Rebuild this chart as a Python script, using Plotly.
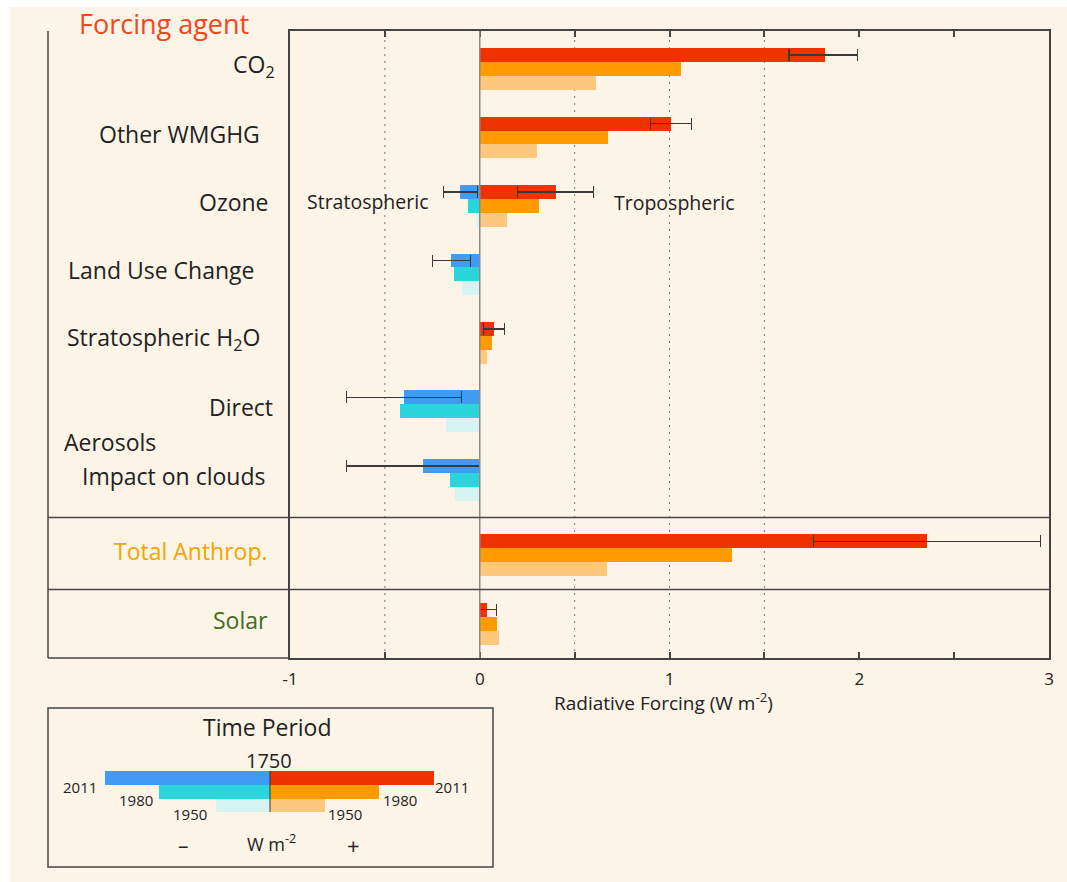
import plotly.graph_objects as go

# ---------------- data (W m-2) ----------------
agents = ["CO<sub>2</sub>", "Other WMGHG", "Ozone", "Land Use Change",
          "Stratospheric H<sub>2</sub>O", "Direct", "Impact on clouds",
          "Total Anthrop.", "Solar"]
pos_2011 = [1.82, 1.01, 0.40, 0.0, 0.074, 0.0, 0.0, 2.355, 0.04]
pos_1980 = [1.06, 0.675, 0.31, 0.0, 0.063, 0.0, 0.0, 1.33, 0.09]
pos_1950 = [0.61, 0.30, 0.145, 0.0, 0.04, 0.0, 0.0, 0.67, 0.10]
neg_2011 = [0.0, 0.0, -0.105, -0.153, 0.0, -0.40, -0.30, 0.0, 0.0]
neg_1980 = [0.0, 0.0, -0.06, -0.137, 0.0, -0.42, -0.158, 0.0, 0.0]
neg_1950 = [0.0, 0.0, -0.02, -0.096, 0.0, -0.18, -0.128, 0.0, 0.0]
pos_err_lo = [1.63, 0.90, 0.20, None, 0.02, None, None, 1.76, 0.0]
pos_err_hi = [1.99, 1.115, 0.60, None, 0.13, None, None, 2.955, 0.09]
neg_err_lo = [None, None, -0.19, -0.25, None, -0.70, -0.70, None, None]
neg_err_hi = [None, None, -0.01, -0.047, None, -0.097, 0.0, None, None]
x_ticks = [-1, 0, 1, 2, 3]
x_tick_labels = ["-1", "0", "1", "2", "3"]
legend_years = ["2011", "1980", "1950"]

# ---------------- styles / layout constants (page pixel coords) ----------------
W, H = 1067, 882
PL, PR, PT, PB = 290, 1049, 31, 658
Y0, Y1 = 8.60, -0.555
BAR_W = 0.204
pos_colors = ["#f03200", "#ff9a00", "#fdc87c"]
neg_colors = ["#3f9cf2", "#2ad6dc", "#d6f4f2"]
CREAM = "#fcf4e7"
LINE = "#444444"
FONT = "Open Sans"
TXT = "#222222"

rows = [i + (0.10 if i >= 7 else 0.0) for i in range(len(agents))]
offsets = [-BAR_W, 0.0, BAR_W]
label_right = [277, 262, 271, 256, 262, 275, 267, 270, 270]


def px2x(px):
    return (px - PL) / (PR - PL)


def py2y(py):
    return (PB - py) / (PB - PT)


fig = go.Figure()

series = [(pos_2011, pos_colors[0], pos_err_lo, pos_err_hi, 0),
          (pos_1980, pos_colors[1], None, None, 1),
          (pos_1950, pos_colors[2], None, None, 2),
          (neg_2011, neg_colors[0], neg_err_lo, neg_err_hi, 0),
          (neg_1980, neg_colors[1], None, None, 1),
          (neg_1950, neg_colors[2], None, None, 2)]

for vals, col, lo, hi, k in series:
    xs, ys, ep, em = [], [], [], []
    for i, v in enumerate(vals):
        if v == 0:
            continue
        xs.append(v)
        ys.append(rows[i] + offsets[k])
        if lo is not None:
            ep.append(hi[i] - v)
            em.append(v - lo[i])
    kw = {}
    if lo is not None:
        kw["error_x"] = dict(type="data", symmetric=False, array=ep, arrayminus=em,
                             color="#3a3a3a", thickness=1.1, width=6)
    fig.add_trace(go.Bar(x=xs, y=ys, orientation="h", width=BAR_W, base=0,
                         marker=dict(color=col, line=dict(width=0)),
                         showlegend=False, hoverinfo="x", **kw))

shapes = []
# white strips at the top and left edges, as in the source image
shapes.append(dict(type="rect", xref="paper", yref="paper", layer="below",
                   x0=px2x(0), x1=px2x(10), y0=py2y(H), y1=py2y(0),
                   fillcolor="white", line=dict(width=0)))
shapes.append(dict(type="rect", xref="paper", yref="paper", layer="below",
                   x0=px2x(0), x1=px2x(W), y0=py2y(7), y1=py2y(0),
                   fillcolor="white", line=dict(width=0)))
# dotted reference lines
for gx in [-0.5, 0.5, 1.0, 1.5]:
    shapes.append(dict(type="line", xref="x", yref="paper", x0=gx, x1=gx, y0=0, y1=1,
                       layer="below", line=dict(color="#7a7a7a", width=1, dash="2px,5px")))
# zero line
shapes.append(dict(type="line", xref="x", yref="paper", x0=0, x1=0, y0=0, y1=1,
                   layer="above", line=dict(color="#8a8a8a", width=1.5)))
# left panel frame
shapes.append(dict(type="line", xref="paper", yref="paper", x0=px2x(48), x1=px2x(48),
                   y0=0, y1=1, line=dict(color=LINE, width=1.5)))
shapes.append(dict(type="line", xref="paper", yref="paper", x0=px2x(48), x1=0,
                   y0=0, y1=0, line=dict(color=LINE, width=1.5)))
# group separators
for sy in [(rows[6] + rows[7]) / 2, (rows[7] + rows[8]) / 2]:
    shapes.append(dict(type="line", xref="paper", yref="y", x0=px2x(48), x1=1,
                       y0=sy, y1=sy, line=dict(color=LINE, width=1.5)))

# legend box
shapes.append(dict(type="rect", xref="paper", yref="paper",
                   x0=px2x(48), x1=px2x(493), y0=py2y(867), y1=py2y(708),
                   line=dict(color=LINE, width=1.5), fillcolor="rgba(0,0,0,0)"))
leg_c = 270
leg_neg_left = [105, 159, 216]
leg_pos_right = [434, 379, 325]
leg_tops = [771, 785, 799, 812]
for k in range(3):
    shapes.append(dict(type="rect", xref="paper", yref="paper",
                       x0=px2x(leg_neg_left[k]), x1=px2x(leg_c),
                       y0=py2y(leg_tops[k + 1]), y1=py2y(leg_tops[k]),
                       fillcolor=neg_colors[k], line=dict(width=0)))
    shapes.append(dict(type="rect", xref="paper", yref="paper",
                       x0=px2x(leg_c), x1=px2x(leg_pos_right[k]),
                       y0=py2y(leg_tops[k + 1]), y1=py2y(leg_tops[k]),
                       fillcolor=pos_colors[k], line=dict(width=0)))
shapes.append(dict(type="line", xref="paper", yref="paper", x0=px2x(leg_c), x1=px2x(leg_c),
                   y0=py2y(812), y1=py2y(771), line=dict(color="#333", width=1)))

ann = []


def text_at(px, py, text, size, color=TXT, xanchor="center"):
    ann.append(dict(x=px2x(px), y=py2y(py), xref="paper", yref="paper", text=text,
                    showarrow=False, xanchor=xanchor, yanchor="middle",
                    font=dict(family=FONT, size=size, color=color)))


label_colors = [TXT] * 7 + ["#f5a300", "#3f6e24"]
for i, name in enumerate(agents):
    ann.append(dict(x=px2x(label_right[i]), y=rows[i], xref="paper", yref="y", text=name,
                    showarrow=False, xanchor="right", yanchor="middle", yshift=4,
                    font=dict(family=FONT, size=23, color=label_colors[i])))
ann.append(dict(x=px2x(62), y=(rows[5] + rows[6]) / 2, xref="paper", yref="y",
                text="Aerosols", showarrow=False, xanchor="left", yanchor="middle", yshift=4,
                font=dict(family=FONT, size=23, color=TXT)))
text_at(77, 23, "Forcing agent", 27, "#f2461e", xanchor="left")
text_at(368, 201, "Stratospheric", 19.5)
text_at(674, 202, "Tropospheric", 19.5)
text_at(663, 702, "Radiative Forcing (W m<sup>-2</sup>)", 19)
# legend texts
text_at(267, 727, "Time Period", 23)
text_at(269, 760, "1750", 20)
leg_lx = [80, 136, 190]
leg_rx = [452, 400, 345]
leg_ty = [787, 800, 814]
for k, yr in enumerate(legend_years):
    text_at(leg_lx[k], leg_ty[k], yr, 15)
    text_at(leg_rx[k], leg_ty[k], yr, 15)
text_at(183, 845, "–", 21)
text_at(353, 845, "+", 22)
text_at(271, 843, "W m<sup>-2</sup>", 18)

fig.update_layout(
    width=W, height=H,
    margin=dict(l=PL, r=W - PR, t=PT, b=H - PB, pad=0),
    paper_bgcolor=CREAM, plot_bgcolor="rgba(0,0,0,0)",
    barmode="overlay", bargap=0,
    shapes=shapes, annotations=ann,
    font=dict(family=FONT, size=15, color=TXT),
    xaxis=dict(range=[-1, 3], tickvals=x_ticks, ticktext=x_tick_labels,
               ticks="inside", ticklen=6, tickwidth=1.5, tickcolor=LINE,
               minor=dict(dtick=0.5, tick0=0, ticks="inside", ticklen=6, tickwidth=1.5,
                          tickcolor=LINE, showgrid=False),
               showline=True, linecolor=LINE, linewidth=1.5, mirror="ticks",
               showgrid=False, zeroline=False, ticklabelstandoff=5,
               tickfont=dict(family=FONT, size=17, color=TXT)),
    yaxis=dict(range=[Y0, Y1], showticklabels=False, ticks="", showline=True,
               linecolor=LINE, linewidth=1.5, mirror=True, showgrid=False, zeroline=False),
)

fig.write_html("out.html", config={"displayModeBar": False},
               post_script="document.body.style.margin='0';"
                           "document.body.style.overflow='hidden';")
